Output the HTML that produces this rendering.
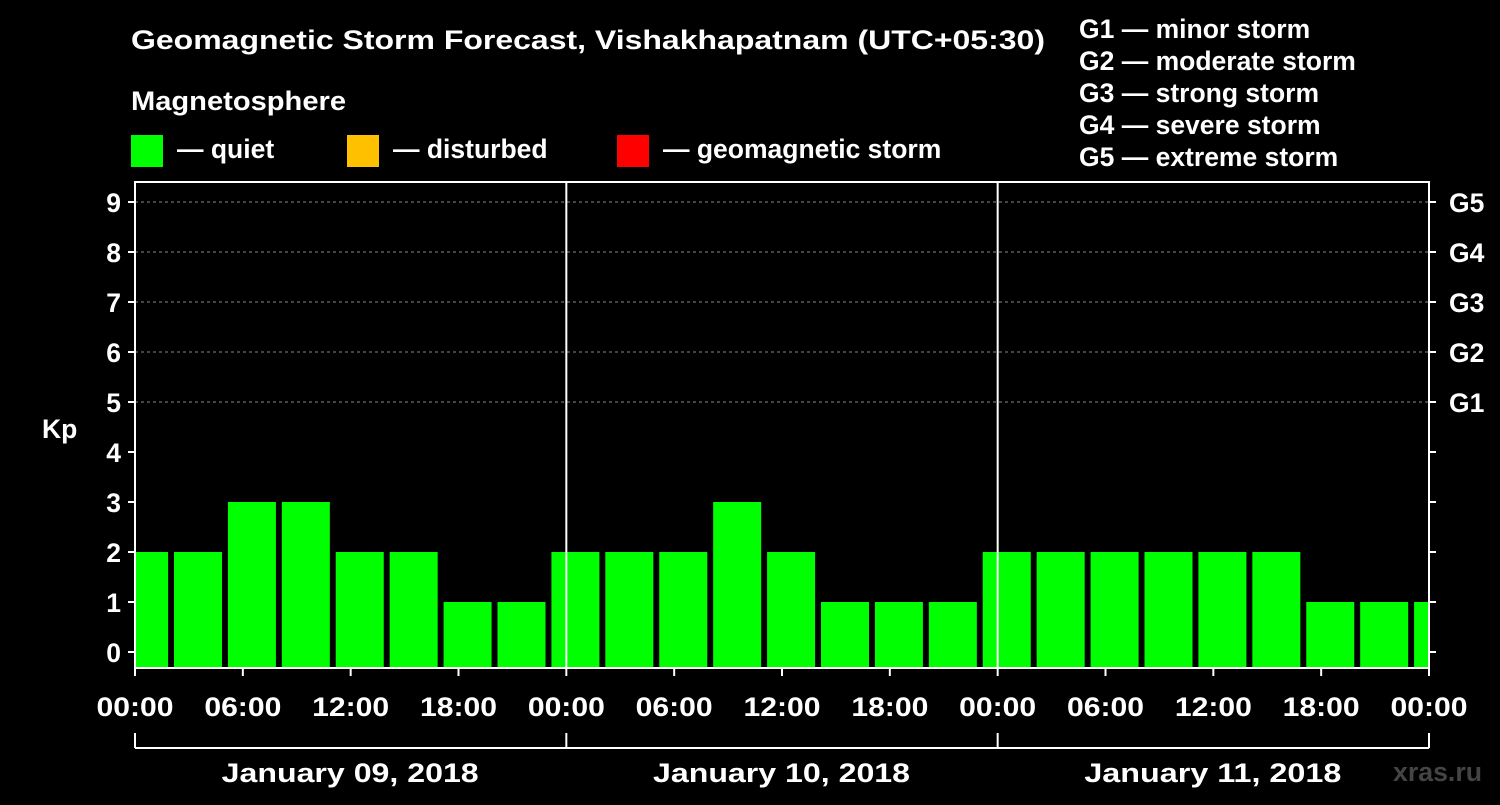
<!DOCTYPE html>
<html><head><meta charset="utf-8"><style>
body{margin:0;background:#000;}
svg text{font-family:"Liberation Sans",Arial,sans-serif;font-weight:bold;fill:#fff;}
</style></head><body>
<svg id="chart" width="1500" height="800" xmlns="http://www.w3.org/2000/svg">
<rect width="1500" height="800" fill="#000"/>
<text x="131" y="49" font-size="26.5" textLength="914" lengthAdjust="spacingAndGlyphs">Geomagnetic Storm Forecast, Vishakhapatnam (UTC+05:30)</text>
<text x="131" y="110" font-size="26.5" textLength="215" lengthAdjust="spacingAndGlyphs">Magnetosphere</text>
<g><rect x="131" y="135" width="32" height="32" fill="#00ff00"/><text x="177" y="158" font-size="26.5">— quiet</text></g>
<g><rect x="347" y="135" width="32" height="32" fill="#ffc000"/><text x="393" y="158" font-size="26.5">— disturbed</text></g>
<g><rect x="617" y="135" width="32" height="32" fill="#ff0000"/><text x="663" y="158" font-size="26.5">— geomagnetic storm</text></g>
<g font-size="26.5">
<text x="1079" y="38">G1 — minor storm</text>
<text x="1079" y="70">G2 — moderate storm</text>
<text x="1079" y="102">G3 — strong storm</text>
<text x="1079" y="134">G4 — severe storm</text>
<text x="1079" y="166">G5 — extreme storm</text>
</g>
<text x="42" y="438" font-size="26.5">Kp</text>
<g id="grid"></g><g id="bars"></g><g id="axes"></g>
<text x="1393" y="781" font-size="26.5" textLength="89" lengthAdjust="spacingAndGlyphs" style="fill:#444">xras.ru</text>
</svg>
<script>
const kpValues=[2,2,3,3,2,2,1,1,2,2,2,3,2,1,1,1,2,2,2,2,2,2,1,1,1];
const kpTicks=[0,1,2,3,4,5,6,7,8,9];
const gLabels=["G1","G2","G3","G4","G5"];
const timeLabels=["00:00","06:00","12:00","18:00","00:00","06:00","12:00","18:00","00:00","06:00","12:00","18:00","00:00"];
const dayLabels=["January 09, 2018","January 10, 2018","January 11, 2018"];
const NS="http://www.w3.org/2000/svg";
const X0=135,X1=1429,YT=182,YB=668;
const pxPerHour=(X1-X0)/72;
const xH=h=>X0+h*pxPerHour;
const yK=k=>652-k*50;
function mk(tag,attrs,parent){const e=document.createElementNS(NS,tag);for(const k in attrs)e.setAttribute(k,attrs[k]);parent.appendChild(e);return e;}
const grid=document.getElementById('grid'),bars=document.getElementById('bars'),axes=document.getElementById('axes');
for(let k=5;k<=9;k++){const l=mk('line',{x1:X0,x2:X1,y1:yK(k),y2:yK(k),stroke:'#888','stroke-dasharray':'3,3','stroke-width':1},grid);

}
kpValues.forEach((v,i)=>{
 let s=xH(-0.5+3*(i-1)+2.67), e=s+48;
 s=Math.max(s,X0+1); e=Math.min(e,X1-1);
 const r=mk('rect',{x:s,y:yK(v),width:e-s,height:YB-yK(v),fill:v>=5?'#ff0000':(v>=4?'#ffc000':'#00ff00')},bars);
 
 
});
const fr=mk('rect',{x:X0,y:YT,width:X1-X0,height:YB-YT,fill:'none',stroke:'#fff','stroke-width':2},axes);


[24,48].forEach(h=>{const l=mk('line',{x1:xH(h),x2:xH(h),y1:YT,y2:YB,stroke:'#fff','stroke-width':2},axes);

});
kpTicks.forEach(k=>{
 mk('line',{x1:X0-7,x2:X0,y1:yK(k),y2:yK(k),stroke:'#fff','stroke-width':2},axes);
 mk('line',{x1:X1,x2:X1+7,y1:yK(k),y2:yK(k),stroke:'#fff','stroke-width':2},axes);
 const t=mk('text',{x:X0-14,y:yK(k)+10,'text-anchor':'end','font-size':26.5},axes);t.textContent=k;
 
 
});
gLabels.forEach((g,i)=>{const t=mk('text',{x:1449,y:yK(5+i)+10,'font-size':26.5},axes);t.textContent=g;
 
 });
timeLabels.forEach((s,i)=>{const x=xH(i*6);
 mk('line',{x1:x,x2:x,y1:YB,y2:YB+8,stroke:'#fff','stroke-width':2},axes);
 const t=mk('text',{x:x-38.5,y:716,'font-size':26.5,textLength:77,lengthAdjust:'spacingAndGlyphs'},axes);t.textContent=s;
 
 });
mk('line',{x1:X0,x2:X1,y1:748,y2:748,stroke:'#fff','stroke-width':2},axes);
[0,24,48,72].forEach(h=>mk('line',{x1:xH(h),x2:xH(h),y1:733,y2:748,stroke:'#fff','stroke-width':2},axes));
dayLabels.forEach((d,i)=>{const t=mk('text',{x:xH(12+24*i)-129,y:782,'font-size':26.5,textLength:257,lengthAdjust:'spacingAndGlyphs'},axes);t.textContent=d;
 
 });
</script>
</body></html>
